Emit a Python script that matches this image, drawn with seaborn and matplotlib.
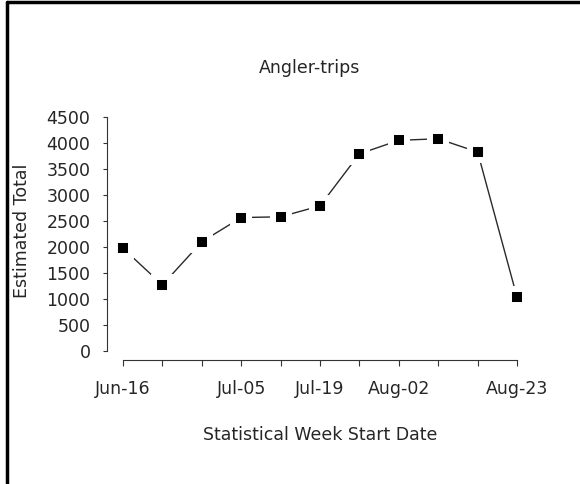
import pandas as pd
import matplotlib
matplotlib.use("Agg")
import matplotlib.pyplot as plt
import seaborn as sns
from matplotlib.lines import Line2D

# Statistical weeks (start dates) and estimated angler-trips
weeks = ["Jun-16", "Jun-21", "Jun-28", "Jul-05", "Jul-12", "Jul-19",
         "Jul-26", "Aug-02", "Aug-09", "Aug-16", "Aug-23"]
angler_trips = [1970, 1265, 2095, 2560, 2575, 2785, 3785, 4045, 4075, 3820, 1030]
shown_labels = ["Jun-16", "Jul-05", "Jul-19", "Aug-02", "Aug-23"]
y_ticks = [0, 500, 1000, 1500, 2000, 2500, 3000, 3500, 4000, 4500]

df = pd.DataFrame({"week": range(len(weeks)), "trips": angler_trips})

sns.set_style("white")
plt.rcParams["font.family"] = ["DejaVu Sans"]

FS = 12.5
TXT = "#262626"

fig = plt.figure(figsize=(5.8, 4.84), dpi=100)
ax = fig.add_axes([107.2 / 580, 1 - 360.1 / 484, 425.6 / 580, 252.8 / 484])

# R-style "b" plot: white marker edge leaves a gap in the line around each point
sns.lineplot(data=df, x="week", y="trips", ax=ax, color="#2a2a2a", linewidth=1.0,
             marker="s", markersize=11.1, markerfacecolor="black",
             markeredgecolor="white", markeredgewidth=4.3)

ax.set_xlim(-0.4, len(weeks) - 1 + 0.4)
ax.set_ylim(-180, 4680)

ax.set_xticks(range(len(weeks)))
ax.set_xticklabels([w if w in shown_labels else "" for w in weeks])
ax.set_yticks(y_ticks)
ax.set_yticklabels([str(v) for v in y_ticks])

for s in ["top", "right"]:
    ax.spines[s].set_visible(False)
ax.spines["left"].set_bounds(0, 4500)
ax.spines["bottom"].set_bounds(0, len(weeks) - 1)
for s in ["left", "bottom"]:
    ax.spines[s].set_color("#333333")
    ax.spines[s].set_linewidth(0.8)

ax.tick_params(axis="both", which="both", bottom=True, left=True, direction="out",
               width=0.8, color="#333333", labelsize=FS, labelcolor=TXT)
ax.tick_params(axis="y", length=3, pad=9)
ax.tick_params(axis="x", length=4, pad=10)

ax.set_xlabel("Statistical Week Start Date", fontsize=FS, color=TXT)
ax.set_ylabel("Estimated Total", fontsize=FS, color=TXT)
ax.xaxis.set_label_coords(0.5, (360.1 - 435) / 252.8)
ax.xaxis.label.set_va("center")
ax.yaxis.set_label_coords((22 - 107.2) / 425.6, 0.513)
ax.yaxis.label.set_va("center")

fig.text(310 / 580, 1 - 68 / 484, "Angler-trips", ha="center", va="center",
         fontsize=FS, color=TXT)

# frame lines (top and left edges of the image)
fig.add_artist(Line2D([7 / 580, 1], [1 - 1.5 / 484, 1 - 1.5 / 484],
                      transform=fig.transFigure, color="black", linewidth=2.5))
fig.add_artist(Line2D([7 / 580, 7 / 580], [0, 1 - 1.5 / 484],
                      transform=fig.transFigure, color="black", linewidth=2.5))

fig.savefig("out.png", dpi=100)
plt.close(fig)
